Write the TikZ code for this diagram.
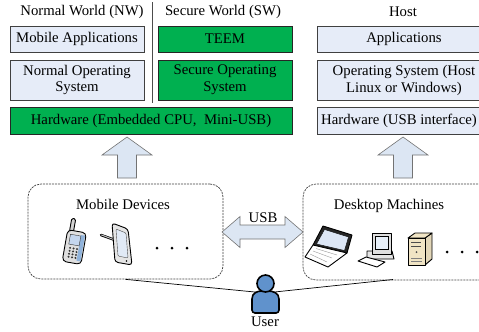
\documentclass[tikz,border=0pt]{standalone}
\usepackage{fontspec}
\setmainfont{Liberation Serif}
\definecolor{teegreen}{RGB}{0,176,80}
\definecolor{layerblue}{RGB}{230,236,248}
\definecolor{arrowblue}{RGB}{220,230,243}
\definecolor{userblue}{RGB}{96,146,204}
\definecolor{screenblue}{RGB}{196,214,238}
\definecolor{beige}{RGB}{240,228,196}

\begin{document}
\begin{tikzpicture}[x=1bp,y=-1bp,
  font=\fontsize{14.8}{17}\selectfont,
  layer/.style={draw=black!75, line width=0.8pt, fill=layerblue, align=center, inner sep=0pt},
  teebox/.style={layer, fill=teegreen, draw=black!85},
  grp/.style={draw=black!75, dash pattern=on 2bp off 1bp, line width=0.7pt, rounded corners=13bp, inner sep=0pt},
  blockarr/.style={draw=black!55, fill=arrowblue, line width=0.6pt, line join=miter},
  dev/.style={draw=black, line width=0.9pt, line join=round},
  dot/.style={fill=black, circle, inner sep=0pt, minimum size=3bp}]

  \useasboundingbox (0,0) rectangle (479,331);

  % titles of the two worlds and the host
  \node (nwtitle) at (82,12) {Normal World (NW)};
  \node (swtitle) at (223,12) {Secure World (SW)};
  \node (hosttitle) at (403,12) {Host};
  \draw [black!70, line width=0.8pt] (152,2) -- (152,103);

  % mobile side stack
  \node [layer, minimum width=134bp, minimum height=26bp] (mobapp) at (77,39) {Mobile Applications};
  \node [teebox, minimum width=134bp, minimum height=26bp] (teem) at (225,39) {TEEM};
  \node [layer, minimum width=134bp, minimum height=40bp] (nos) at (77,80) {Normal Operating\\System};
  \node [teebox, minimum width=134bp, minimum height=40bp] (sos) at (225,80) {Secure Operating\\System};
  \node [teebox, minimum width=282bp, minimum height=27bp] (mobhw) at (151,120.5) {Hardware (Embedded CPU,\ \ Mini-USB)};

  % host stack
  \node [layer, minimum width=174bp, minimum height=26bp] (hostapp) at (404,39) {Applications};
  \node [layer, minimum width=174bp, minimum height=40bp] (hostos) at (404,80) {Operating System (Host\\Linux or Windows)};
  \node [layer, minimum width=174bp, minimum height=27bp] (hosthw) at (404,120.5) {\hspace{-10bp}Hardware (USB interface)};

  % block arrows up to the stacks
  \draw [blockarr] (127,137) -- (152,155) -- (136.5,155) -- (136.5,178) -- (117.5,178)
    -- (117.5,155) -- (102,155) -- cycle;
  \draw [blockarr] (403,137) -- (428,155) -- (412.5,155) -- (412.5,178) -- (393.5,178)
    -- (393.5,155) -- (378,155) -- cycle;

  % device groups
  \node [grp, minimum width=195bp, minimum height=95bp] (mobdev) at (125.5,231.5) {};
  \node [grp, minimum width=194bp, minimum height=96bp] (desk) at (400,232) {};
  \node (mobdevlbl) at (123,204) {Mobile Devices};
  \node (desklbl) at (389,205.5) {Desktop Machines};

  % usb link
  \draw [blockarr] (222,232) -- (240,216.5) -- (240,225) -- (285,225) -- (285,216.5)
    -- (303,232) -- (285,247.5) -- (285,239) -- (240,239) -- (240,247.5) -- cycle;
  \node [anchor=base] (usb) at (263,222.5) {USB};

  % phone
  \begin{scope}[shift={(74,246)}, rotate=-10]
    \draw [dev, fill=gray!35, rounded corners=1.5bp] (-7,-27) rectangle (-3,-13);
    \draw [dev, fill=gray!25, rounded corners=4bp] (-9,-15) rectangle (10,17);
    \fill [userblue!70] (5,-12) rectangle (9,14);
    \draw [black!80, fill=screenblue] (-5.5,-11) rectangle (5,-1);
    \foreach \i in {0,...,3}
      \foreach \j in {0,1,2}
        \fill [black!80] (-3.5+3.5*\j,2.5+3*\i) circle (1.1);
  \end{scope}

  % tablet with stylus
  \draw [dev, line width=2.5pt, line cap=round] (101,235) -- (115,240);
  \draw [gray!50, line width=1pt, line cap=round] (101.5,235) -- (115,240);
  \draw [dev, fill=gray!20, rounded corners=3bp] (112,223) -- (128,229) -- (132,265) -- (115,262) -- cycle;
  \draw [black!70, fill=screenblue!50, rounded corners=1bp] (116,229) -- (126,233) -- (128,258) -- (118,256) -- cycle;
  \fill [black] (126.5,261) circle (0.9);

  \node [dot] (md1) at (157,248) {};
  \node [dot] (md2) at (172,248) {};
  \node [dot] (md3) at (187,248) {};

  % laptop
  \draw [dev, fill=black!85] (313,245) -- (323,226) -- (352,235) -- (347,253) -- cycle;
  \draw [fill=screenblue!60] (316.5,244) -- (324.5,229.5) -- (348.5,237) -- (344.5,250.5) -- cycle;
  \draw [dev, fill=white] (305,257) -- (313,245) -- (347,253) -- (328,267) -- cycle;
  \draw [black!40, line width=0.4pt] (310,254) -- (327,262);
  \draw [black!40, line width=0.4pt] (313,251) -- (332,258);
  \draw [black!40, line width=0.4pt] (316,248.5) -- (337,255);

  % desktop pc
  \draw [dev, fill=gray!20] (367,251) -- (392,251) -- (394,259) -- (367,259) -- cycle;
  \draw [dev, fill=gray!25] (372,233) rectangle (391,254);
  \draw [black, fill=screenblue!40] (375,236.5) rectangle (388,249);
  \draw [dev, fill=white] (358,261) -- (366,257) -- (385,262) -- (377,267) -- cycle;

  % tower
  \draw [dev, fill=beige!70!black!20!beige] (425,238) -- (432,233) -- (432,259) -- (425,265) -- cycle;
  \draw [dev, fill=beige] (425,238) -- (432,233) -- (415,233) -- (408,238) -- cycle;
  \draw [dev, fill=beige] (408,238) rectangle (425,265);
  \draw [black!70, line width=0.6pt] (411,242) -- (421,242);
  \draw [black!70, line width=0.6pt] (411,246) -- (421,246);
  \fill [black!70] (416.5,252) circle (1);
  \draw [black!50, line width=0.5pt] (411,258) -- (422,258);
  \draw [black!50, line width=0.5pt] (411,261) -- (422,261);

  \node [dot] (dk1) at (447,252) {};
  \node [dot] (dk2) at (462,252) {};
  \node [dot] (dk3) at (477,252) {};

  % user linking both groups
  \coordinate (user) at (265,293);
  \draw [black, line width=0.7pt] (mobdev.south) -- (user) -- (393,279.5);
  \draw [black, line width=1.6pt, fill=userblue, rounded corners=3bp]
    (252,313) -- (252,302) .. controls (252,293) and (257,291) .. (265,291)
    .. controls (273,291) and (279,293) .. (279,302) -- (279,313) -- cycle;
  \draw [black, line width=1.6pt, fill=userblue] (265.5,283.5) circle (8.5);
  \node (userlbl) at (265,322) {User};

\end{tikzpicture}
\end{document}
